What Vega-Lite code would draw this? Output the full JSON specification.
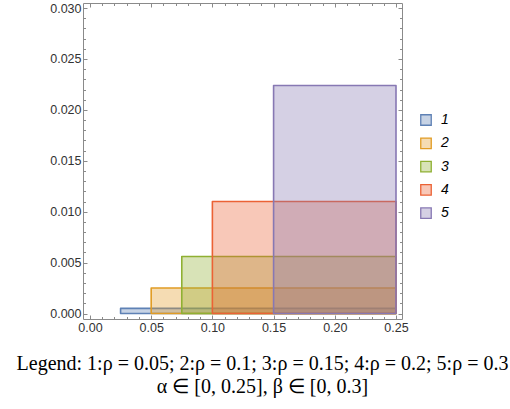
{
  "$schema": "https://vega.github.io/schema/vega-lite/v6.json",
  "width": 319,
  "height": 316,
  "autosize": "none",
  "padding": {"left": 83, "top": 3, "right": 108, "bottom": 90},
  "background": "white",
  "config": {
    "view": {"stroke": "#8a8a8a", "strokeWidth": 1},
    "axis": {
      "grid": false,
      "domain": false,
      "tickColor": "#8a8a8a",
      "labelFont": "Liberation Sans",
      "labelFontSize": 12.5,
      "labelColor": "#333333",
      "title": null
    }
  },
  "title": {
    "text": "Legend: 1:ρ = 0.05; 2:ρ = 0.1; 3:ρ = 0.15; 4:ρ = 0.2; 5:ρ = 0.3",
    "subtitle": "α ∈ [0, 0.25], β ∈ [0, 0.3]",
    "orient": "bottom",
    "anchor": "middle",
    "dx": 20,
    "offset": 20,
    "font": "Liberation Serif",
    "fontSize": 20,
    "fontWeight": "normal",
    "color": "black",
    "subtitleFont": "Liberation Serif",
    "subtitleFontSize": 20,
    "subtitleColor": "black",
    "subtitlePadding": 3
  },
  "data": {
    "values": [
      {"case": "1", "a0": 0.025, "a1": 0.25, "b0": 0, "b1": 0.0005},
      {"case": "2", "a0": 0.05, "a1": 0.25, "b0": 0, "b1": 0.0025},
      {"case": "3", "a0": 0.075, "a1": 0.25, "b0": 0, "b1": 0.0056},
      {"case": "4", "a0": 0.1, "a1": 0.25, "b0": 0, "b1": 0.011},
      {"case": "5", "a0": 0.15, "a1": 0.25, "b0": 0, "b1": 0.0224}
    ]
  },
  "layer": [
    {
      "mark": {"type": "rect", "fillOpacity": 0.35, "strokeWidth": 1.6, "strokeJoin": "round"},
      "encoding": {
        "x": {"field": "a0", "type": "quantitative",
              "scale": {"domain": [-0.0057, 0.2549], "nice": false, "zero": false},
              "axis": {"orient": "bottom", "values": [0, 0.05, 0.1, 0.15, 0.2, 0.25], "format": ".2f", "tickSize": -4, "labelPadding": 6}},
        "x2": {"field": "a1"},
        "y": {"field": "b0", "type": "quantitative",
              "scale": {"domain": [-0.00054, 0.0305], "nice": false, "zero": false},
              "axis": {"orient": "left", "values": [0, 0.005, 0.01, 0.015, 0.02, 0.025, 0.03], "format": ".3f", "tickSize": -4, "labelPadding": 6}},
        "y2": {"field": "b1"},
        "color": {"field": "case", "type": "nominal",
                  "scale": {"range": ["#5E81B5", "#E19C24", "#8FB032", "#EB6235", "#8778B3"]},
                  "legend": {"orient": "none", "legendX": 336, "legendY": 110, "title": null,
                             "symbolType": "square", "symbolSize": 110, "symbolStrokeWidth": 1.3,
                             "labelFont": "Liberation Sans", "labelFontStyle": "italic", "labelFontSize": 14,
                             "labelColor": "black", "labelOffset": 8, "rowPadding": 7.3,
                             "encode": {"symbols": {"update": {"fillOpacity": {"value": 0.35}}}}}},
        "stroke": {"field": "case", "type": "nominal",
                   "scale": {"range": ["#5E81B5", "#E19C24", "#8FB032", "#EB6235", "#8778B3"]}}
      }
    },
    {
      "mark": {"type": "rect", "opacity": 0},
      "encoding": {
        "x": {"field": "a0", "type": "quantitative",
              "axis": {"orient": "bottom", "values": [0.01, 0.02, 0.03, 0.04, 0.06, 0.07, 0.08, 0.09, 0.11, 0.12, 0.13, 0.14, 0.16, 0.17, 0.18, 0.19, 0.21, 0.22, 0.23, 0.24], "labels": false, "tickSize": -2.5}},
        "y": {"field": "b0", "type": "quantitative",
              "axis": {"orient": "left", "values": [0.001, 0.002, 0.003, 0.004, 0.006, 0.007, 0.008, 0.009, 0.011, 0.012, 0.013, 0.014, 0.016, 0.017, 0.018, 0.019, 0.021, 0.022, 0.023, 0.024, 0.026, 0.027, 0.028, 0.029], "labels": false, "tickSize": -2.5}}
      }
    },
    {
      "mark": {"type": "rect", "opacity": 0},
      "encoding": {
        "x": {"field": "a0", "type": "quantitative",
              "axis": {"orient": "top", "values": [0, 0.05, 0.1, 0.15, 0.2, 0.25], "labels": false, "tickSize": -4}},
        "y": {"field": "b0", "type": "quantitative",
              "axis": {"orient": "right", "values": [0, 0.005, 0.01, 0.015, 0.02, 0.025, 0.03], "labels": false, "tickSize": -4}}
      }
    },
    {
      "mark": {"type": "rect", "opacity": 0},
      "encoding": {
        "x": {"field": "a0", "type": "quantitative",
              "axis": {"orient": "top", "values": [0.01, 0.02, 0.03, 0.04, 0.06, 0.07, 0.08, 0.09, 0.11, 0.12, 0.13, 0.14, 0.16, 0.17, 0.18, 0.19, 0.21, 0.22, 0.23, 0.24], "labels": false, "tickSize": -2.5}},
        "y": {"field": "b0", "type": "quantitative",
              "axis": {"orient": "right", "values": [0.001, 0.002, 0.003, 0.004, 0.006, 0.007, 0.008, 0.009, 0.011, 0.012, 0.013, 0.014, 0.016, 0.017, 0.018, 0.019, 0.021, 0.022, 0.023, 0.024, 0.026, 0.027, 0.028, 0.029], "labels": false, "tickSize": -2.5}}
      }
    }
  ],
  "resolve": {"axis": {"x": "independent", "y": "independent"}}
}
